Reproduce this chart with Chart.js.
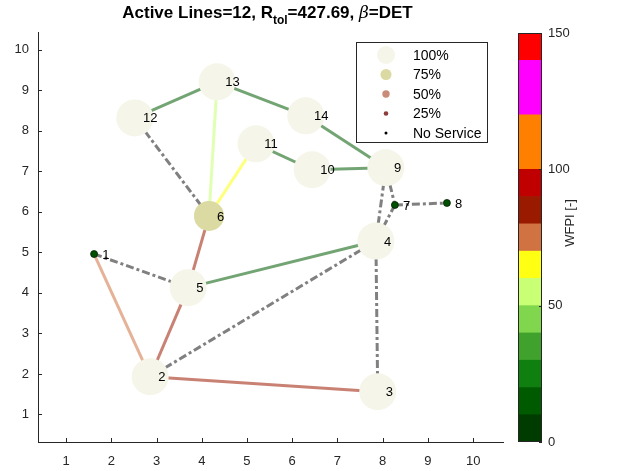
<!DOCTYPE html>
<html>
<head>
<meta charset="utf-8">
<script src="https://cdn.jsdelivr.net/npm/chart.js@4/dist/chart.umd.min.js"></script>
<style>
  html, body { margin: 0; padding: 0; background: #ffffff; }
  #wrap { position: relative; width: 618px; height: 471px; overflow: hidden; }
  #net { position: absolute; left: 0; top: 0; }
  #cbar { position: absolute; left: 500px; top: 0; }
</style>
</head>
<body>
<div id="wrap">
  <canvas id="net" width="618" height="471"></canvas>
  <canvas id="cbar" width="118" height="471"></canvas>
</div>
<script>
// ---- network nodes ----
const nodeIds     = [1, 2, 3, 4, 5, 6, 7, 8, 9, 10, 11, 12, 13, 14];
const nodeX       = [1.62, 2.86, 7.89, 7.85, 3.70, 4.16, 8.27, 9.42, 8.07, 6.44, 5.20, 2.52, 4.34, 6.30];
const nodeY       = [4.96, 1.93, 1.56, 5.28, 4.13, 5.90, 6.17, 6.22, 7.09, 7.04, 7.68, 8.32, 9.21, 8.37];
const nodeService = [0, 100, 100, 100, 100, 75, 0, 0, 100, 100, 100, 100, 100, 100]; // % served, 0 = no service

// ---- active lines (with their WFPI value) ----
const activeFrom = [12, 13, 14, 11, 10, 5, 13, 11, 6, 5, 2, 1];
const activeTo   = [13, 14, 9, 10, 9, 4, 6, 6, 5, 2, 3, 2];
const activeWFPI = [15, 15, 15, 15, 15, 15, 55, 65, 85, 85, 85, 75];

// ---- lines out of service ----
const outFrom = [12, 1, 2, 4, 4, 9, 7, 7];
const outTo   = [6, 5, 4, 3, 9, 7, 4, 8];

// ---- axes ----
const xTicks = [1, 2, 3, 4, 5, 6, 7, 8, 9, 10];
const yTicks = [1, 2, 3, 4, 5, 6, 7, 8, 9, 10];

// ---- WFPI colour scale ----
const wfpiBounds = [0, 10, 20, 30, 40, 50, 60, 70, 80, 90, 100, 120, 140, 150];
const wfpiColors = ['#003c00', '#005a00', '#0f800f', '#40a22c', '#80d64c', '#c8ff74', '#ffff14',
                    '#d07242', '#9a1a00', '#c00000', '#ff8000', '#ff00ff', '#ff0000'];
const wfpiTicks  = [0, 50, 100, 150];

// ---- service legend ----
const serviceLabels = ['100%', '75%', '50%', '25%', 'No Service'];
const serviceLevels = [100, 75, 50, 25, 0];

const FONT = "'Liberation Sans', Arial, Helvetica, sans-serif";
const AXIS_COLOR = '#262626';

const serviceFill = { 100: 'rgb(245,245,233)', 75: 'rgb(218,218,162)', 50: 'rgb(200,140,120)', 25: 'rgb(140,60,60)', 0: 'rgb(0,80,0)' };
const serviceRadius = { 100: 18.5, 75: 15, 50: 11, 25: 7, 0: 3.5 };
const legendRadius = { 100: 9, 75: 5.5, 50: 3.7, 25: 2.3, 0: 1.5 };
const legendFill = Object.assign({}, serviceFill, { 0: '#000000' });

function wfpiColor(v, alpha) {
  let i = 0;
  while (i < wfpiColors.length - 1 && v >= wfpiBounds[i + 1]) i++;
  const h = wfpiColors[i];
  const r = parseInt(h.slice(1, 3), 16), g = parseInt(h.slice(3, 5), 16), b = parseInt(h.slice(5, 7), 16);
  return `rgba(${r},${g},${b},${alpha})`;
}

function pt(id) {
  const i = nodeIds.indexOf(id);
  return { x: nodeX[i], y: nodeY[i] };
}

const datasets = [];

// nodes on top
datasets.push({
  label: 'nodes',
  order: 0,
  data: nodeIds.map((id, i) => ({ x: nodeX[i], y: nodeY[i] })),
  pointRadius: nodeService.map(s => serviceRadius[s]),
  pointBackgroundColor: nodeService.map(s => serviceFill[s]),
  pointBorderColor: nodeService.map(s => s === 0 ? '#0a200a' : serviceFill[s]),
  pointBorderWidth: nodeService.map(s => s === 0 ? 0.8 : 0),
  showLine: false,
  clip: false
});

// active lines
activeFrom.forEach((f, k) => {
  datasets.push({
    label: 'line' + f + '-' + activeTo[k],
    order: 2,
    data: [pt(f), pt(activeTo[k])],
    showLine: true,
    borderColor: wfpiColor(activeWFPI[k], 0.55),
    borderWidth: 3,
    pointRadius: 0,
    clip: false
  });
});

// inactive lines
outFrom.forEach((f, k) => {
  datasets.push({
    label: 'out' + f + '-' + outTo[k],
    order: 1,
    data: [pt(f), pt(outTo[k])],
    showLine: true,
    borderColor: 'rgb(128,128,128)',
    borderWidth: 3,
    borderDash: [8, 3, 3, 3],
    pointRadius: 0,
    clip: false
  });
});

const netDecor = {
  id: 'netDecor',
  afterDatasetsDraw(chart) {
    const { ctx, scales: { x, y } } = chart;
    ctx.save();
    ctx.fillStyle = '#000000';
    ctx.font = '13px ' + FONT;
    ctx.textAlign = 'left';
    ctx.textBaseline = 'middle';
    nodeIds.forEach((id, i) => {
      ctx.fillText(String(id), x.getPixelForValue(nodeX[i] + 0.18), y.getPixelForValue(nodeY[i]) + 1);
    });
    ctx.restore();
  },
  afterDraw(chart) {
    const { ctx, chartArea: a, scales: { x, y } } = chart;
    ctx.save();
    // inward tick marks
    ctx.strokeStyle = AXIS_COLOR;
    ctx.lineWidth = 1;
    ctx.beginPath();
    xTicks.forEach(v => {
      const px = Math.round(x.getPixelForValue(v)) + 0.5;
      ctx.moveTo(px, a.bottom); ctx.lineTo(px, a.bottom - 4);
    });
    yTicks.forEach(v => {
      const py = Math.round(y.getPixelForValue(v)) + 0.5;
      ctx.moveTo(a.left, py); ctx.lineTo(a.left + 4, py);
    });
    ctx.stroke();

    // legend box
    const lx = 356.5, ly = 42.5, lw = 131, lh = 100;
    ctx.fillStyle = '#ffffff';
    ctx.fillRect(lx, ly, lw, lh);
    ctx.strokeStyle = AXIS_COLOR;
    ctx.strokeRect(lx, ly, lw, lh);
    ctx.font = '14px ' + FONT;
    ctx.textAlign = 'left';
    ctx.textBaseline = 'middle';
    serviceLabels.forEach((lab, i) => {
      const cy = 55 + i * 19.5;
      const s = serviceLevels[i];
      ctx.beginPath();
      ctx.arc(386, cy, legendRadius[s], 0, Math.PI * 2);
      ctx.fillStyle = legendFill[s];
      ctx.fill();
      ctx.fillStyle = '#000000';
      ctx.fillText(lab, 413, cy + 1);
    });

    // title
    const big = 'bold 17px ' + FONT, small = 'bold 12px ' + FONT, greek = 'italic 17px ' + "'DejaVu Serif', serif";
    const parts = [
      { t: 'Active Lines=12, R', f: big, dy: 0 },
      { t: 'tol', f: small, dy: 6 },
      { t: '=427.69, ', f: big, dy: 0 },
      { t: '\u03B2', f: greek, dy: 0 },
      { t: '=DET', f: big, dy: 0 }
    ];
    let total = 0;
    parts.forEach(p => { ctx.font = p.f; p.w = ctx.measureText(p.t).width; total += p.w; });
    let cx = (a.left + a.right) / 2 - 3 - total / 2;
    ctx.fillStyle = '#000000';
    ctx.textAlign = 'left';
    ctx.textBaseline = 'alphabetic';
    parts.forEach(p => { ctx.font = p.f; ctx.fillText(p.t, cx, 18 + p.dy); cx += p.w; });
    ctx.restore();
  }
};

new Chart(document.getElementById('net'), {
  type: 'scatter',
  data: { datasets },
  options: {
    responsive: false,
    animation: false,
    events: [],
    devicePixelRatio: 1,
    layout: { padding: { top: 32, right: 115, left: 0, bottom: 0 } },
    plugins: { legend: { display: false }, tooltip: { enabled: false }, title: { display: false } },
    scales: {
      x: {
        type: 'linear', min: 0.38, max: 10.66,
        afterBuildTicks: s => { s.ticks = xTicks.map(v => ({ value: v })); },
        afterFit: s => { s.height = 29; },
        grid: { display: false, drawTicks: false },
        border: { display: true, color: AXIS_COLOR, width: 1 },
        ticks: { color: AXIS_COLOR, font: { family: FONT, size: 13 }, padding: 12, maxRotation: 0 }
      },
      y: {
        type: 'linear', min: 0.32, max: 10.44,
        afterBuildTicks: s => { s.ticks = yTicks.map(v => ({ value: v })); },
        afterFit: s => { s.width = 38; },
        grid: { display: false, drawTicks: false },
        border: { display: true, color: AXIS_COLOR, width: 1 },
        ticks: { color: AXIS_COLOR, font: { family: FONT, size: 13 }, padding: 9 }
      }
    }
  },
  plugins: [netDecor]
});

// ---- colour bar ----
const cbDecor = {
  id: 'cbDecor',
  afterDraw(chart) {
    const { ctx, chartArea: a, scales: { y } } = chart;
    ctx.save();
    ctx.strokeStyle = AXIS_COLOR;
    ctx.lineWidth = 1;
    ctx.strokeRect(Math.round(a.left) + 0.5, Math.round(a.top) + 0.5, Math.round(a.right - a.left) - 1, Math.round(a.bottom - a.top) - 1);
    ctx.beginPath();
    wfpiTicks.forEach(v => {
      const py = Math.round(y.getPixelForValue(v)) + 0.5;
      ctx.moveTo(a.right, py); ctx.lineTo(a.right - 3, py);
    });
    ctx.stroke();
    ctx.translate(70, 223);
    ctx.rotate(-Math.PI / 2);
    ctx.fillStyle = AXIS_COLOR;
    ctx.font = '13px ' + FONT;
    ctx.textAlign = 'center';
    ctx.textBaseline = 'middle';
    ctx.fillText('WFPI [-]', 0, 0);
    ctx.restore();
  }
};

new Chart(document.getElementById('cbar'), {
  type: 'bar',
  data: {
    labels: [''],
    datasets: wfpiColors.map((c, i) => ({
      data: [wfpiBounds[i + 1] - wfpiBounds[i]],
      backgroundColor: c,
      borderWidth: 0,
      barPercentage: 1,
      categoryPercentage: 1
    }))
  },
  options: {
    responsive: false,
    animation: false,
    events: [],
    devicePixelRatio: 1,
    layout: { padding: { top: 33, left: 18, bottom: 29, right: 0 } },
    plugins: { legend: { display: false }, tooltip: { enabled: false } },
    scales: {
      x: { stacked: true, display: false },
      y: {
        stacked: true, position: 'right', min: 0, max: 150,
        afterBuildTicks: s => { s.ticks = wfpiTicks.map(v => ({ value: v })); },
        afterFit: s => { s.width = 76; },
        grid: { display: false, drawTicks: false },
        border: { display: false },
        ticks: { color: AXIS_COLOR, font: { family: FONT, size: 13 }, padding: 6 }
      }
    }
  },
  plugins: [cbDecor]
});
</script>
</body>
</html>
